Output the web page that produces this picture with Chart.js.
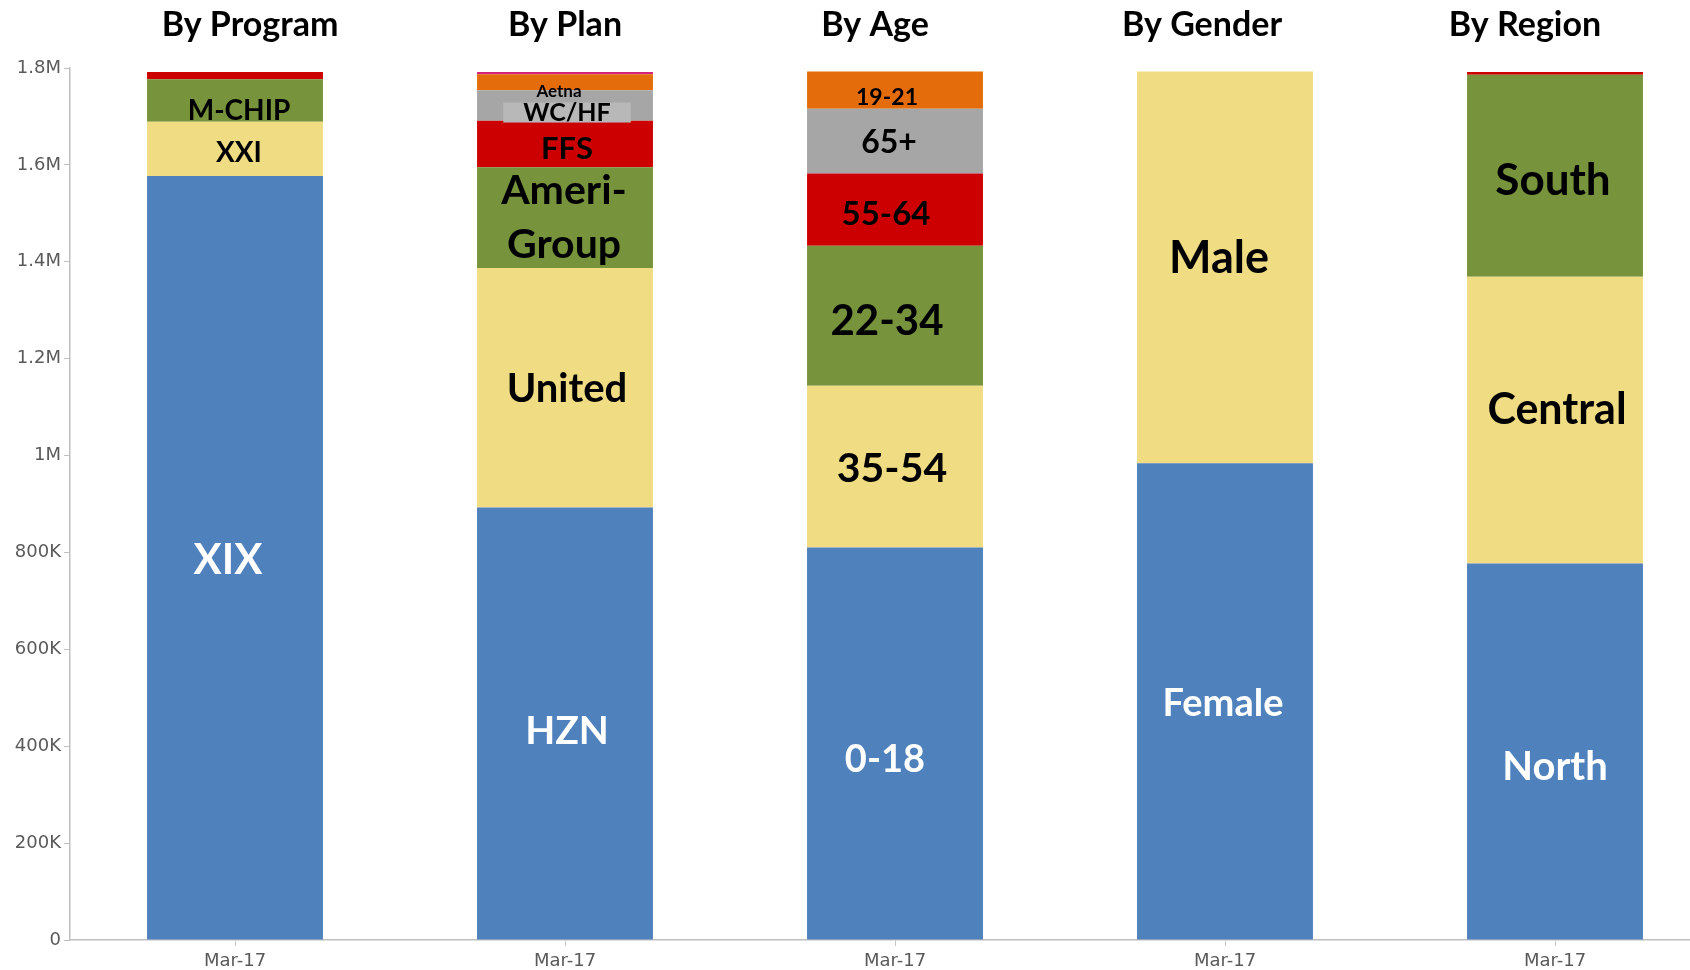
<!DOCTYPE html>
<html>
<head>
<meta charset="utf-8">
<script src="https://cdn.jsdelivr.net/npm/chart.js@4.4.1/dist/chart.umd.min.js"></script>
<style>
  html, body { margin: 0; padding: 0; overflow: hidden; background: #ffffff; }
  #wrap { width: 1720px; height: 970px; position: relative; }
</style>
</head>
<body>
<div id="wrap"><canvas id="c"></canvas></div>
<script>
// ---- data ----
const categories = ['By Program', 'By Plan', 'By Age', 'By Gender', 'By Region'];
const xTickLabels = ['Mar-17', 'Mar-17', 'Mar-17', 'Mar-17', 'Mar-17'];
const yMax = 1800000;
const yStep = 200000;

// stacked layers, bottom to top (one value per category)
const layer1 = [1577000, 893000, 810000, 984000, 777000];
const layer2 = [112000, 494000, 334000, 809000, 592000];
const layer3 = [88000, 208000, 289000, 0, 417000];
const layer4 = [15000, 96000, 149000, 0, 6000];
const layer5 = [0, 63000, 134000, 0, 0];
const layer6 = [0, 33000, 77000, 0, 0];
const layer7 = [0, 5000, 0, 0, 0];

// segment names, same layout as the layers
const names1 = ['XIX', 'HZN', '0-18', 'Female', 'North'];
const names2 = ['XXI', 'United', '35-54', 'Male', 'Central'];
const names3 = ['M-CHIP', 'Ameri-\nGroup', '22-34', '', 'South'];
const names4 = ['', 'FFS', '55-64', '', ''];
const names5 = ['', 'WC/HF', '65+', '', ''];
const names6 = ['', 'Aetna', '19-21', '', ''];
const names7 = ['', '', '', '', ''];

// ---- styles ----
const layerColors = ['#4f81bd', '#f0dc82', '#77933c', '#cc0000', '#a6a6a6', '#e46c0a', '#d4237a'];
const layers = [layer1, layer2, layer3, layer4, layer5, layer6, layer7];
const names = [names1, names2, names3, names4, names5, names6, names7];

// label style per layer/category: [fontSize, dx, dy, color, bg]
const labelStyle = [
  [[42, -7, 3, '#fff'], [39, 2, 8, '#fff'], [38, -10, 16, '#fff'], [38, -2, 2, '#fff'], [40, 0, 16, '#fff']],
  [[28, 4, 4, '#000'], [40, 2, 1, '#000'], [41, -3, 2, '#000'], [45, -6, -9, '#000'], [43, 2, -10, '#000']],
  [[28, 4, 10.5, '#000'], [41, -1, 0, '#000'], [42, -8, 6, '#000'], null, [44, -2, 5, '#000']],
  [null, [31, 2, 5, '#000'], [33, -9, 5, '#000'], null, null],
  [null, [25, 2, 7, '#000', '#b8b8b8'], [32, -6, 1.5, '#000'], null, null],
  [null, [17, -6, 9, '#000'], [23, -8, 8, '#000'], null, null],
  [null, null, null, null, null]
];
const titleDx = [15, 0, -20, -23, -30];
const labelFont = 'Lato, "Open Sans", sans-serif';
const tickFont = '"DejaVu Sans", Verdana, sans-serif';

const datasets = layers.map((vals, i) => ({
  label: 'layer' + (i + 1),
  data: vals,
  backgroundColor: layerColors[i],
  borderWidth: 0,
  categoryPercentage: 1.0,
  barPercentage: 0.533
}));

const overlayPlugin = {
  id: 'overlay',
  afterDatasetsDraw(chart) {
    const ctx = chart.ctx;
    ctx.save();
    // segment labels
    for (let i = 0; i < layers.length; i++) {
      const meta = chart.getDatasetMeta(i);
      for (let j = 0; j < categories.length; j++) {
        const txt = names[i][j];
        const st = labelStyle[i][j];
        if (!txt || !st) continue;
        const el = meta.data[j];
        const cx = el.x + st[1];
        const cy = (el.y + el.base) / 2 + st[2];
        const lines = txt.split('\n');
        const lh = st[0] * 1.3;
        ctx.font = 'bold ' + st[0] + 'px ' + labelFont;
        ctx.textAlign = 'center';
        ctx.textBaseline = 'middle';
        if (st[4]) {
          const w = ctx.measureText(txt).width;
          ctx.fillStyle = st[4];
          ctx.fillRect(cx - w / 2 - 20, cy - st[0] * 0.4, w + 40, st[0] * 0.8);
        }
        ctx.fillStyle = st[3];
        lines.forEach((ln, k) => {
          ctx.fillText(ln, cx, cy + (k - (lines.length - 1) / 2) * lh);
        });
      }
    }
    // titles
    const m0 = chart.getDatasetMeta(0);
    ctx.font = 'bold 34px ' + labelFont;
    ctx.fillStyle = '#000';
    ctx.textAlign = 'center';
    ctx.textBaseline = 'middle';
    categories.forEach((t, j) => {
      ctx.fillText(t, m0.data[j].x + titleDx[j], 25);
    });
    ctx.restore();
  }
};

new Chart(document.getElementById('c'), {
  type: 'bar',
  data: { labels: xTickLabels, datasets },
  options: {
    responsive: true,
    maintainAspectRatio: false,
    animation: false,
    layout: { padding: { top: 68, right: 0, left: 0, bottom: 0 } },
    plugins: { legend: { display: false }, tooltip: { enabled: false }, title: { display: false } },
    scales: {
      x: {
        stacked: true,
        offset: true,
        grid: { display: true, drawOnChartArea: false, drawTicks: true, tickLength: 6, color: '#c8c8c8', offset: false },
        border: { display: true, color: '#c0c0c0', width: 1.5 },
        ticks: { color: '#5a5a5a', font: { family: tickFont, size: 18 }, padding: 5, maxRotation: 0, autoSkip: false },
        afterFit(scale) { scale.height = 30; }
      },
      y: {
        stacked: true,
        min: 0,
        max: yMax,
        grid: { display: true, drawOnChartArea: false, drawTicks: true, tickLength: 6, color: '#c0c0c0' },
        border: { display: true, color: '#c0c0c0', width: 1.5 },
        ticks: {
          stepSize: yStep,
          color: '#5a5a5a',
          padding: 3,
          font: { family: tickFont, size: 18 },
          callback(v) {
            if (v === 0) return '0';
            if (v >= 1000000) return (Math.round(v / 100000) / 10) + 'M';
            return Math.round(v / 1000) + 'K';
          }
        },
        afterFit(scale) { scale.width = 70; }
      }
    }
  },
  plugins: [overlayPlugin]
});
</script>
</body>
</html>
